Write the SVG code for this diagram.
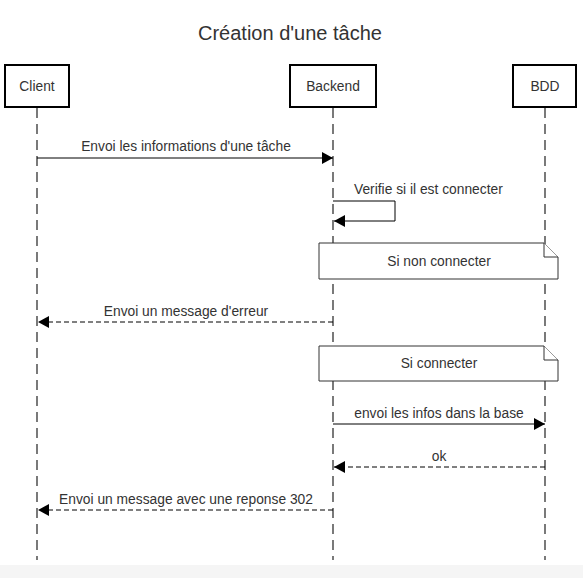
<svg xmlns="http://www.w3.org/2000/svg" width="583" height="578" viewBox="0 0 583 578">
<defs>
<style>
text{font-family:"Liberation Sans",Arial,sans-serif;fill:#333;}
.title{font-size:20px;text-anchor:middle;}
.lbl{font-size:13.8px;text-anchor:middle;}
.box{fill:#fff;stroke:#000;stroke-width:2;}
.life{stroke:#333;stroke-width:1.3;stroke-dasharray:10 6;fill:none;}
.msg{stroke:#000;stroke-width:1;fill:none;}
.ret{stroke:#000;stroke-width:1;fill:none;stroke-dasharray:5 3;}
.note{fill:#fff;stroke:#333;stroke-width:1;}
</style>
<marker id="ah" viewBox="0 0 11 12" refX="11" refY="6" markerWidth="11" markerHeight="12" markerUnits="userSpaceOnUse" orient="auto">
<path d="M0,0 L11,6 L0,12 Z" fill="#000"/>
</marker>
</defs>
<rect x="0" y="0" width="583" height="578" fill="#fff"/>
<rect x="0" y="565" width="583" height="13" fill="#f5f5f5"/>
<text class="title" x="290" y="40">Création d'une tâche</text>
<g id="lifelines">
<line class="life" x1="37" y1="108" x2="37" y2="560"/>
<line class="life" x1="333" y1="108" x2="333" y2="560"/>
<line class="life" x1="545" y1="108" x2="545" y2="560"/>
</g>
<g id="client"><rect class="box" x="5" y="65" width="64" height="42"/><text class="lbl" x="37" y="91">Client</text></g>
<g id="backend"><rect class="box" x="290" y="65" width="86" height="42"/><text class="lbl" x="333" y="91">Backend</text></g>
<g id="bdd"><rect class="box" x="513" y="65" width="63" height="42"/><text class="lbl" x="545" y="91">BDD</text></g>
<g id="note1"><path class="note" d="M319,243 H544 L558,257 V279 H319 Z"/><path class="note" d="M544,243 V257 H558" fill="none"/><text class="lbl" x="439" y="266">Si non connecter</text></g>
<g id="note2"><path class="note" d="M319,346 H544 L558,360 V381 H319 Z"/><path class="note" d="M544,346 V360 H558" fill="none"/><text class="lbl" x="439" y="368">Si connecter</text></g>
<g id="connectors">
<line class="msg" x1="37" y1="158" x2="333" y2="158" marker-end="url(#ah)"/>
<text class="lbl" x="186" y="151">Envoi les informations d'une tâche</text>
<path class="msg" d="M333,201 H395 V221 H334" marker-end="url(#ah)"/>
<text class="lbl" x="354" y="194" style="text-anchor:start">Verifie si il est connecter</text>
<line class="ret" x1="333" y1="322" x2="38" y2="322" marker-end="url(#ah)"/>
<text class="lbl" x="186" y="316">Envoi un message d'erreur</text>
<line class="msg" x1="333" y1="424" x2="545" y2="424" marker-end="url(#ah)"/>
<text class="lbl" x="439" y="418">envoi les infos dans la base</text>
<line class="ret" x1="545" y1="467" x2="334" y2="467" marker-end="url(#ah)"/>
<text class="lbl" x="439" y="461">ok</text>
<line class="ret" x1="333" y1="510" x2="38" y2="510" marker-end="url(#ah)"/>
<text class="lbl" x="186" y="504">Envoi un message avec une reponse 302</text>
</g>
</svg>
